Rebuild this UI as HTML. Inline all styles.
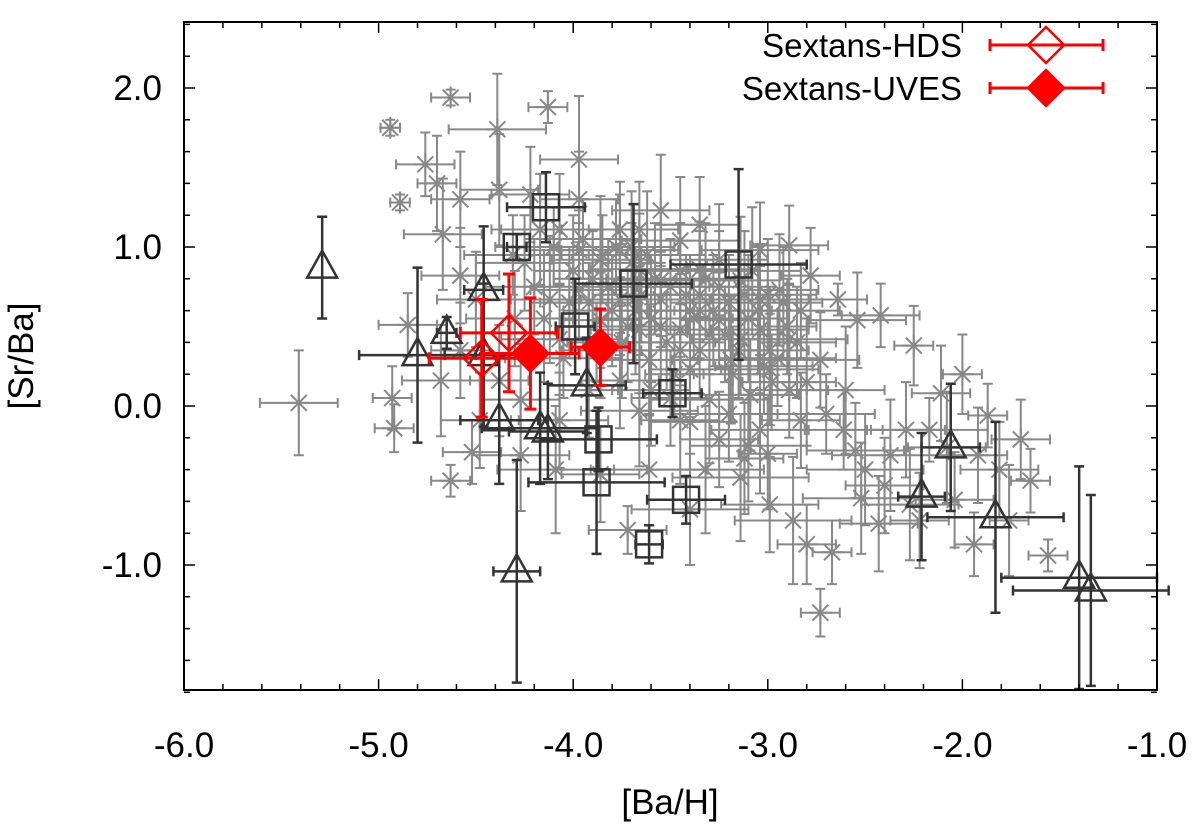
<!DOCTYPE html>
<html><head><meta charset="utf-8"><style>
html,body{margin:0;padding:0;background:#fff}
svg{display:block;font-family:"Liberation Sans",sans-serif}
</style></head><body>
<svg id="chart" width="1200" height="829">
<g id="plot"></g>
</svg>
<script>
const grayX=[-4.94,-4.63,-4.76,-4.70,-4.89,-4.39,-4.13,-4.67,-5.41,-4.93,-4.92,-4.85,-4.58,-4.63,-4.52,-3.72,-2.73,-2.80,-2.67,-2.64,-2.42,-2.54,-2.25,-2.11,-2.17,-2.08,-2.00,-1.92,-1.87,-1.81,-1.70,-1.65,-1.56,-1.94,-2.43,-2.50,-2.55,-2.61,-2.37,-2.29,-2.40,-2.52,-2.87,-2.99,-3.14,-3.12,-3.32,-3.25,-3.40,-3.04,-2.83,-3.61,-3.86,-4.09,-4.27,-4.48,-4.38,-4.50,-4.31,-4.22,-4.07,-3.97,-3.86,-3.76,-3.66,-3.55,-3.45,-3.35,-3.25,-3.04,-2.89,-2.78,-2.94,-3.35,-3.55,-3.76,-3.97,-4.12,-4.07,-3.86,-3.66,-3.45,-3.25,-3.04,-2.89,-2.73,-2.99,-3.19,-3.40,-3.61,-3.76,-3.30,-3.09,-2.89,-3.55,-3.35,-3.14,-3.66,-3.86,-3.45,-3.14,-2.83,-3.66,-3.45,-4.07,-4.27,-4.58,-4.68,-3.97,-3.76,-4.38,-4.58,-3.97,-4.17,-3.35,-3.04,-2.99,-3.92,-1.76,-2.04,-2.27,-2.22,
-3.90,-3.80,-3.70,-3.60,-3.50,-3.40,-3.30,-3.20,-3.10,-3.00,-2.90,-3.85,-3.75,-3.65,-3.55,-3.45,-3.35,-3.25,-3.15,-3.05,-2.95,-2.85,-3.92,-3.82,-3.72,-3.62,-3.52,-3.42,-3.32,-3.22,-3.12,-3.02,-2.92,-3.88,-3.78,-3.68,-3.58,-3.48,-3.38,-3.28,-3.18,-3.08,-2.98,-4.00,-4.10,-4.20,-4.02,-4.15,-4.25,-3.95,-3.60,-3.20,-2.80,-3.50,-3.10,-2.70,-3.40,-3.00,-2.60,-4.30,-4.05,-3.70];
const grayY=[1.75,1.94,1.52,1.40,1.28,1.74,1.88,1.08,0.02,0.05,-0.14,0.51,0.82,-0.47,-0.29,-0.78,-1.30,-0.87,-0.92,0.67,0.57,0.54,0.38,0.08,-0.15,-0.26,0.20,-0.31,-0.06,-0.40,-0.21,-0.47,-0.94,-0.87,-0.74,-0.40,-0.28,-0.15,-0.31,-0.15,-0.50,-0.58,-0.72,-0.62,-0.45,-0.33,-0.40,-0.21,-0.65,-0.15,-0.09,-0.40,-0.43,-0.40,-0.31,-0.09,0.16,0.67,0.95,1.33,1.11,1.30,0.92,0.98,1.11,1.23,1.04,1.14,0.92,0.98,1.01,0.82,0.73,0.70,0.67,0.67,0.73,0.67,0.42,0.35,0.48,0.48,0.54,0.48,0.42,0.29,0.23,0.29,0.23,0.29,0.16,0.04,0.07,0.10,0.79,0.86,0.79,0.86,0.54,0.35,0.42,0.60,-0.03,-0.09,-0.09,0.04,0.35,0.16,0.98,1.11,1.36,1.30,1.55,1.11,0.35,0.67,0.35,0.10,-0.72,-0.59,-0.62,-0.72,
0.80,0.60,0.90,0.55,0.75,0.60,0.45,0.65,0.55,0.70,0.50,0.95,0.40,0.70,0.50,0.85,0.60,0.75,0.35,0.60,0.30,0.40,0.65,0.75,0.50,0.95,0.40,0.70,0.80,0.45,0.70,0.25,0.65,0.40,1.00,0.60,0.80,0.20,0.55,0.60,0.20,0.85,0.15,0.85,1.00,0.75,0.65,0.55,0.90,1.05,0.10,-0.05,0.15,0.05,-0.25,-0.05,-0.10,-0.30,0.10,0.55,0.30,1.00];
const grayXe=[0.05,0.1,0.15,0.1,0.05,0.25,0.1,0.2,0.2,0.1,0.1,0.15,0.2,0.1,0.15,0.2,0.1,0.15,0.1,0.15,0.2,0.25,0.1,0.15,0.3,0.2,0.1,0.15,0.1,0.2,0.15,0.1,0.1,0.1,0.2,0.3,0.25,0.2,0.3,0.2,0.2,0.3,0.3,0.25,0.35,0.2,0.3,0.2,0.3,0.25,0.2,0.3,0.2,0.3,0.25,0.2,0.15,0.2,0.25,0.2,0.3,0.2,0.25,0.3,0.2,0.25,0.3,0.2,0.25,0.3,0.2,0.15,0.2,0.25,0.3,0.2,0.25,0.2,0.3,0.2,0.25,0.3,0.2,0.25,0.3,0.2,0.25,0.3,0.2,0.25,0.2,0.3,0.25,0.2,0.25,0.3,0.2,0.25,0.2,0.3,0.25,0.2,0.3,0.2,0.25,0.2,0.15,0.2,0.25,0.3,0.2,0.15,0.2,0.25,0.3,0.25,0.2,0.15,0.1,0.2,0.25,0.15,
0.2,0.25,0.15,0.3,0.2,0.25,0.15,0.3,0.2,0.25,0.15,0.3,0.2,0.25,0.15,0.2,0.3,0.25,0.2,0.15,0.3,0.2,0.25,0.15,0.2,0.3,0.25,0.2,0.15,0.3,0.2,0.25,0.2,0.15,0.3,0.2,0.25,0.15,0.2,0.3,0.2,0.25,0.15,0.2,0.3,0.25,0.2,0.15,0.25,0.3,0.2,0.25,0.15,0.2,0.3,0.25,0.2,0.15,0.2,0.25,0.3,0.2];
const grayYe=[0.05,0.05,0.2,0.3,0.05,0.35,0.1,0.35,0.33,0.2,0.15,0.2,0.3,0.1,0.2,0.15,0.15,0.25,0.2,0.1,0.2,0.3,0.25,0.3,0.2,0.35,0.25,0.3,0.2,0.3,0.25,0.2,0.1,0.2,0.3,0.35,0.3,0.25,0.35,0.3,0.3,0.35,0.4,0.3,0.4,0.35,0.4,0.3,0.35,0.4,0.3,0.35,0.3,0.4,0.35,0.3,0.35,0.3,0.25,0.3,0.35,0.3,0.4,0.35,0.3,0.35,0.4,0.3,0.35,0.3,0.25,0.3,0.35,0.4,0.3,0.35,0.3,0.4,0.35,0.3,0.4,0.35,0.3,0.4,0.35,0.3,0.35,0.4,0.3,0.35,0.3,0.4,0.35,0.3,0.35,0.3,0.4,0.35,0.3,0.4,0.35,0.3,0.35,0.4,0.3,0.35,0.3,0.35,0.25,0.3,0.35,0.3,0.4,0.35,0.3,0.35,0.4,0.3,0.35,0.3,0.35,0.3,
0.3,0.35,0.25,0.4,0.3,0.35,0.25,0.3,0.4,0.35,0.3,0.25,0.35,0.3,0.4,0.3,0.25,0.35,0.3,0.4,0.3,0.35,0.25,0.3,0.35,0.4,0.3,0.25,0.35,0.3,0.4,0.3,0.35,0.25,0.3,0.4,0.35,0.3,0.25,0.35,0.3,0.4,0.3,0.35,0.25,0.3,0.35,0.4,0.3,0.25,0.35,0.3,0.4,0.3,0.35,0.25,0.3,0.35,0.4,0.3,0.25,0.35];
const triX=[-5.29,-4.80,-4.65,-4.46,-4.46,-4.38,-4.17,-4.13,-3.93,-4.29,-2.21,-2.06,-1.83,-1.40,-1.34];
const triY=[0.87,0.32,0.46,0.73,0.32,-0.09,-0.14,-0.16,0.13,-1.04,-0.57,-0.26,-0.70,-1.08,-1.16];
const triXe=[0,0.3,0.05,0.1,0.2,0.2,0.3,0.2,0.2,0.12,0.12,0.15,0.35,0.4,0.4];
const triYe=[0.32,0.55,0.1,0.4,0.45,0.4,0.35,0.3,0.3,0.7,0.4,0.4,0.6,0.7,0.6];
const sqX=[-4.14,-4.29,-3.69,-3.15,-3.99,-3.49,-3.87,-3.88,-3.42,-3.61];
const sqY=[1.25,1.00,0.77,0.89,0.50,0.08,-0.21,-0.48,-0.59,-0.87];
const sqXe=[0.2,0.05,0.3,0.35,0.1,0.15,0.3,0.35,0.2,0.07];
const sqYe=[0.22,0.08,0.5,0.6,0.3,0.15,0.2,0.45,0.15,0.12];
const hdsX=[-4.47,-4.33], hdsY=[0.30,0.46], hdsXe=[0.27,0.25], hdsYe=[0.37,0.37];
const uvX=[-4.22,-3.86], uvY=[0.33,0.37], uvXe=[0.25,0.15], uvYe=[0.35,0.24];
const xTicks=[-6,-5,-4,-3,-2,-1], xTickLabels=["-6.0","-5.0","-4.0","-3.0","-2.0","-1.0"];
const yTicks=[-1,0,1,2], yTickLabels=["-1.0","0.0","1.0","2.0"];

const L=184,R=1157,T=22,B=690;
const sx=v=>L+(v+6)*194.6;
const sy=v=>406-v*159;
const NS="http://www.w3.org/2000/svg";
const g=document.getElementById('plot');
function mk(t,a,p){const e=document.createElementNS(NS,t);for(const k in a)e.setAttribute(k,a[k]);(p||g).appendChild(e);return e;}
function errbar(x,y,xe,ye,col,w,cap){
  const gg=mk('g',{stroke:col,'stroke-width':w,fill:'none'});
  
  
  const cx=sx(x),cy=sy(y);
  if(xe>0){const a=sx(x-xe),b=sx(x+xe);mk('path',{d:`M${a} ${cy}H${b}M${a} ${cy-cap}V${cy+cap}M${b} ${cy-cap}V${cy+cap}`},gg);}
  if(ye>0){const a=sy(y-ye),b=sy(y+ye);mk('path',{d:`M${cx} ${a}V${b}M${cx-cap} ${a}H${cx+cap}M${cx-cap} ${b}H${cx+cap}`},gg);}
}
for(let i=0;i<grayX.length;i++){
  errbar(grayX[i],grayY[i],grayXe[i],grayYe[i],'#888',2,5);
  const cx=sx(grayX[i]),cy=sy(grayY[i]),r=11;
  const s=mk('path',{d:`M${cx-r} ${cy}H${cx+r}M${cx} ${cy-r}V${cy+r}M${cx-8} ${cy-8}L${cx+8} ${cy+8}M${cx-8} ${cy+8}L${cx+8} ${cy-8}`,stroke:'#888','stroke-width':2});
  
  
}
for(let i=0;i<triX.length;i++){
  errbar(triX[i],triY[i],triXe[i],triYe[i],'#333',2.5,5);
  const cx=sx(triX[i]),cy=sy(triY[i]);
  const t=mk('path',{d:`M${cx} ${cy-17}L${cx+15} ${cy+10}H${cx-15}Z`,stroke:'#333','stroke-width':2.5,fill:'none'});
  
  
}
for(let i=0;i<sqX.length;i++){
  errbar(sqX[i],sqY[i],sqXe[i],sqYe[i],'#333',2.5,5);
  const cx=sx(sqX[i]),cy=sy(sqY[i]);
  const q=mk('rect',{x:cx-13,y:cy-13,width:26,height:26,stroke:'#333','stroke-width':2.5,fill:'none'});
  
  
}
function diamond(cx,cy,filled,p){
  return mk('path',{d:`M${cx} ${cy-18}L${cx+18} ${cy}L${cx} ${cy+18}L${cx-18} ${cy}Z`,stroke:'#f00','stroke-width':2.5,fill:filled?'#f00':'none'},p);
}
for(let i=0;i<hdsX.length;i++){
  errbar(hdsX[i],hdsY[i],hdsXe[i],hdsYe[i],'#f00',3,6);
  const d=diamond(sx(hdsX[i]),sy(hdsY[i]),false);
  
  
}
for(let i=0;i<uvX.length;i++){
  errbar(uvX[i],uvY[i],uvXe[i],uvYe[i],'#f00',3,6);
  const d=diamond(sx(uvX[i]),sy(uvY[i]),true);
  
  
}
const fr=mk('rect',{x:L,y:T,width:R-L,height:B-T,fill:'none',stroke:'#000','stroke-width':2});


let tk='';
for(let v=-6;v<=-1.0001+0.0002;v+=0.2){const x=sx(v);const major=Math.abs(v-Math.round(v))<0.01;const l=major?11:6;tk+=`M${x} ${B}V${B-l}M${x} ${T}V${T+l}`;}
for(let v=-1.8;v<=2.41;v+=0.2){const y=sy(v);const major=Math.abs(v-Math.round(v))<0.01;const l=major?11:6;tk+=`M${L} ${y}H${L+l}M${R} ${y}H${R-l}`;}
const tp=mk('path',{d:tk,stroke:'#000','stroke-width':1.5});


xTicks.forEach((v,i)=>{const t=mk('text',{x:sx(v),y:757,'font-size':35,'text-anchor':'middle'});t.textContent=xTickLabels[i];

});
yTicks.forEach((v,i)=>{const t=mk('text',{x:162,y:sy(v)+12,'font-size':35,'text-anchor':'end'});t.textContent=yTickLabels[i];

});
const xt=mk('text',{x:670,y:814,'font-size':35,'text-anchor':'middle'});xt.textContent='[Ba/H]';


const yt=mk('text',{x:0,y:0,'font-size':35,'text-anchor':'middle',transform:'translate(33,356) rotate(-90)'});yt.textContent='[Sr/Ba]';


const leg=[['Sextans-HDS',45,false],['Sextans-UVES',88,true]];
leg.forEach(([lab,y,f])=>{
  const lg=mk('g',{});
  
  
  const t=mk('text',{x:962,y:y+12,'font-size':33,'text-anchor':'end'},lg);t.textContent=lab;
  mk('path',{d:`M990 ${y}H1103M990 ${y-6}V${y+6}M1103 ${y-6}V${y+6}`,stroke:'#f00','stroke-width':3},lg);
  diamond(1046,y,f,lg);
});
</script>
</body></html>
